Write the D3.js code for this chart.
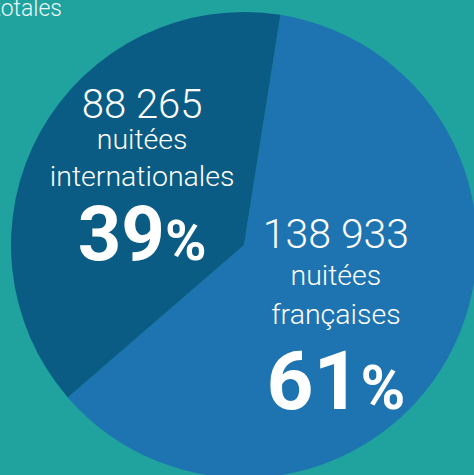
<!DOCTYPE html>
<html>
<head>
<meta charset="utf-8">
<script src="https://cdn.jsdelivr.net/npm/d3@7"></script>
<style>
  html, body { margin: 0; padding: 0; background: #20a39f; overflow: hidden; }
  svg { display: block; font-family: Roboto, "Noto Sans", sans-serif; }
</style>
</head>
<body>
<svg id="pie"></svg>
<script>
// data
let categories = ['françaises', 'internationales'];
let nuitees = [138933, 88265];
let sliceColors = ['#1e74b0', '#0a5c84'];

let w = 474;
let h = 475;
let cx = 244, cy = 245;
let radius = 233;

let fr = d3.formatLocale({ decimal: ',', thousands: ' ', grouping: [3], currency: ['', ' €'] });
let fmtNum = fr.format(',');
let total = d3.sum(nuitees);

let svg = d3.select('#pie')
  .attr('width', w)
  .attr('height', h);

// partial title, cut by the frame
svg.append('text')
  .attr('x', 62)
  .attr('y', 16)
  .attr('text-anchor', 'end')
  .attr('fill', '#e8f6f5')
  .attr('font-size', 23)
  .attr('font-weight', 300)
  .text('nuitées totales');

let pie = d3.pie()
  .sort(null)
  .startAngle(9 * Math.PI / 180)
  .endAngle(369 * Math.PI / 180);

let arcs = pie(nuitees);

let arc = d3.arc().innerRadius(0).outerRadius(radius);
let labelArc = d3.arc().innerRadius(120).outerRadius(120);

let g = svg.append('g').attr('transform', `translate(${cx}, ${cy})`);

g.selectAll('path')
  .data(arcs)
  .enter()
  .append('path')
  .attr('d', arc)
  .attr('fill', (d, i) => sliceColors[i]);

// label layout per slice: dx shift, then lines (dy, size, weight)
let labelLayout = [
  { dx: -13, lines: [[-55, 41, 300], [-18, 28.5, 300], [21, 28.5, 300], [106, 82, 700]] },
  { dx: 3, lines: [[-69, 40, 300], [-38, 28.5, 300], [-1, 28.5, 300], [73, 76, 700]] }
];

arcs.forEach(function(d, i) {
  let c = labelArc.centroid(d);
  let lay = labelLayout[i];
  let pct = Math.round(d.value / total * 100);
  let texts = [fmtNum(d.value), 'nuitées', categories[i]];
  let lg = g.append('g')
    .attr('transform', `translate(${c[0] + lay.dx}, ${c[1]})`)
    .attr('fill', '#fff')
    .attr('text-anchor', 'middle');

  texts.forEach(function(t, j) {
    lg.append('text')
      .attr('y', lay.lines[j][0])
      .attr('font-size', lay.lines[j][1])
      .attr('font-weight', lay.lines[j][2])
      .text(t);
  });

  let big = lay.lines[3];
  let p = lg.append('text')
    .attr('y', big[0])
    .attr('font-size', big[1])
    .attr('font-weight', big[2]);
  p.append('tspan').text(pct);
  p.append('tspan').attr('font-size', big[1] * 0.74).text('%');
});
</script>
</body>
</html>
